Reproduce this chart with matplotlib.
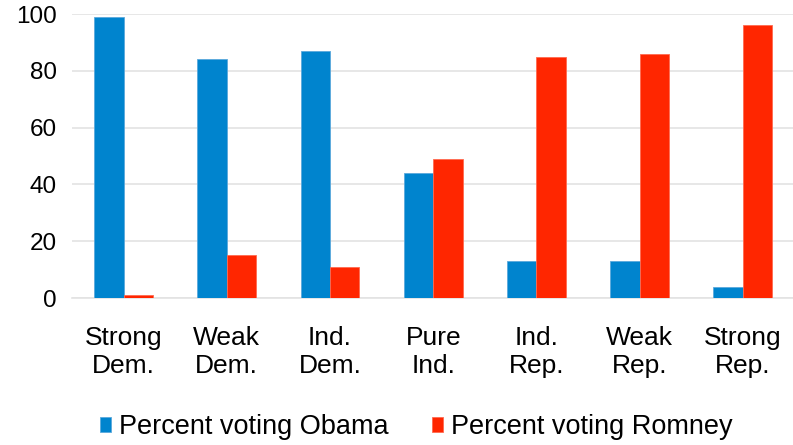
import matplotlib.pyplot as plt
import numpy as np

plt.rcParams['font.family'] = ['Liberation Sans', 'DejaVu Sans']

categories = ['Strong\nDem.', 'Weak\nDem.', 'Ind.\nDem.', 'Pure\nInd.', 'Ind.\nRep.', 'Weak\nRep.', 'Strong\nRep.']
obama = [99, 84, 87, 44, 13, 13, 4]
romney = [1, 15, 11, 49, 85, 86, 96]

blue = '#0084CE'
red = '#FF2600'

fig = plt.figure(figsize=(7.93, 4.45), dpi=100)
ax = fig.add_axes([0.0908, 0.3303, 0.911, 0.6382])

x = np.arange(len(categories))
w = 0.285
ax.bar(x - w/2, obama, w, color=blue, edgecolor='#5aa9dc', linewidth=0.6, label='Percent voting Obama', zorder=3)
ax.bar(x + w/2, romney, w, color=red, edgecolor='#ff6a50', linewidth=0.6, label='Percent voting Romney', zorder=3)

ax.set_xlim(-0.5, len(categories) - 0.5)
ax.set_ylim(0, 100)
ax.set_yticks(range(0, 101, 20))
ax.yaxis.grid(True, color='#e3e3e3', linewidth=1.2, zorder=0)
ax.set_axisbelow(True)
for s in ['top', 'right', 'left']:
    ax.spines[s].set_visible(False)
ax.spines['bottom'].set_color('#e3e3e3')
ax.spines['bottom'].set_linewidth(1.2)
ax.tick_params(axis='both', length=0)
ax.tick_params(axis='y', pad=11, labelsize=17.5)
ax.tick_params(axis='x', pad=20, labelsize=19)
ax.set_xticks(x)
ax.set_xticklabels(categories, linespacing=1.22)

fig.legend(loc='center', bbox_to_anchor=(0.525, 0.04), ncol=2, frameon=False,
           fontsize=19.5, handlelength=0.4, handleheight=0.5, handletextpad=0.3,
           columnspacing=1.6)

fig.savefig('out.png', dpi=100)
